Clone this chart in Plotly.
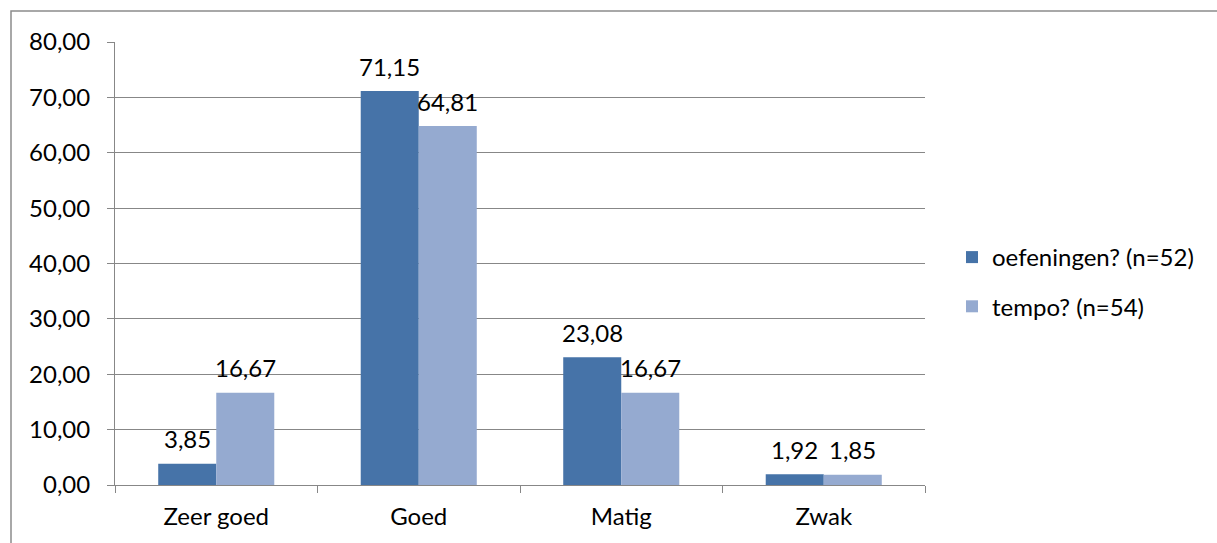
import plotly.graph_objects as go

categories = ["Zeer goed", "Goed", "Matig", "Zwak"]
oefeningen = [3.85, 71.15, 23.08, 1.92]
tempo = [16.67, 64.81, 16.67, 1.85]
series_names = ["oefeningen? (n=52)", "tempo? (n=54)"]
y_ticks = [0, 10, 20, 30, 40, 50, 60, 70, 80]

FONT = "Lato"
FS = 24
GRID = "#878787"
COLORS = ["#4673A8", "#95AAD0"]

fig = go.Figure()
for name, vals, col, grp in zip(series_names, [oefeningen, tempo], COLORS, ["a", "b"]):
    fig.add_trace(go.Bar(
        x=categories, y=vals, name=name,
        marker=dict(color=col, line=dict(width=0)),
        legendgroup=grp, hoverinfo="x+y",
    ))

W, H = 1217, 543
L, R, T, B = 115, 925, 42, 485
BAR_PX = 58

# value labels above each bar
for vals, shift in [(oefeningen, -BAR_PX / 2), (tempo, BAR_PX / 2)]:
    for c, v in zip(categories, vals):
        fig.add_annotation(
            x=c, y=v, xref="x", yref="y",
            text=f"{v:.2f}".replace(".", ","),
            showarrow=False, xshift=shift, yshift=25, yanchor="middle",
            font=dict(family=FONT, size=FS, color="#000"),
        )

fig.update_layout(
    width=W, height=H,
    margin=dict(l=L, r=W - R, t=T, b=H - B),
    paper_bgcolor="white", plot_bgcolor="white",
    separators=",.",
    font=dict(family=FONT, size=FS, color="#000"),
    barmode="group", bargap=0.427, bargroupgap=0,
    showlegend=True,
    legend=dict(x=(952 - L) / (R - L), y=(B - 282) / (B - T), xanchor="left", yanchor="middle",
                font=dict(family=FONT, size=FS), tracegroupgap=15,
                traceorder="grouped", itemwidth=30, bgcolor="rgba(0,0,0,0)"),
)
fig.update_yaxes(
    range=[0, 80], tickvals=y_ticks, tickformat=".2f",
    showgrid=True, gridcolor=GRID, gridwidth=1,
    showline=True, linecolor=GRID, linewidth=1,
    ticks="outside", ticklen=7, tickcolor=GRID,
    ticklabelstandoff=12, zeroline=False,
)
fig.update_xaxes(
    showgrid=False, showline=True, linecolor=GRID, linewidth=1,
    ticks="outside", ticklen=7, tickcolor=GRID, tickson="boundaries",
    ticklabelstandoff=10,
)
# outer chart border (top and left visible)
fig.add_shape(type="rect", xref="paper", yref="paper",
              x0=(11 - L) / (R - L), x1=(W + 20 - L) / (R - L),
              y0=(B - H - 20) / (B - T), y1=(B - 11) / (B - T),
              line=dict(color="#8c8c8c", width=1.5), layer="below")

fig.write_html("out.html")
